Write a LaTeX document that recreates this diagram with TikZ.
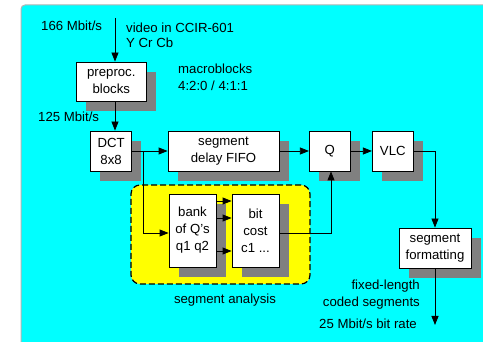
\documentclass[tikz,border=0pt]{standalone}
\usepackage{fontspec}
\setmainfont{Liberation Sans}
\usetikzlibrary{arrows.meta,shadows}
\definecolor{bgcyan}{HTML}{00FFFF}
\definecolor{anayellow}{HTML}{FFFF00}
\definecolor{shgray}{HTML}{808080}
\definecolor{bordergray}{HTML}{B4B4B4}
\begin{document}
\begin{tikzpicture}[x=1pt,y=-1pt,
  font=\fontsize{13.2}{17}\selectfont,
  blk/.style={draw=black, fill=white, line width=0.8pt, inner sep=0pt, align=center,
    general shadow={fill=shgray, shadow xshift=9.6pt, shadow yshift=-9.6pt}},
  lbl/.style={inner sep=0pt},
  ana/.style={draw=black, fill=anayellow, line width=1.2pt, dash pattern=on 6pt off 3pt,
    rounded corners=9pt, inner sep=0pt},
  arr/.style={-{Triangle[length=9pt,width=7pt]}, line width=0.8pt}]
\useasboundingbox (0,0) rectangle (483,342);
% background
\fill[bgcyan, rounded corners=4pt] (21,5) rectangle (500,360);
\draw[bordergray, line width=1pt, rounded corners=4pt] (21,360) -- (21,5) -- (500,5);
% segment analysis area
\node[ana, minimum width=179pt, minimum height=99pt] (ana) at (220.5,234.5) {};
% blocks
\node[blk, minimum width=70pt, minimum height=39pt] (pre) at (111.3,81.5) {preproc.\\blocks};
\node[blk, minimum width=41pt, minimum height=40pt] (dct) at (111.1,151) {DCT\\8x8};
\node[blk, minimum width=111pt, minimum height=40pt] (fifo) at (223.5,151) {segment\\delay FIFO};
\node[blk, minimum width=41pt, minimum height=40pt] (q) at (329.8,151) {Q};
\node[blk, minimum width=41pt, minimum height=40pt] (vlc) at (392.8,151) {VLC};
\node[blk, minimum width=47pt, minimum height=73pt] (bank) at (192.5,230.5) {bank\\of Q's\\q1 q2};
\node[blk, minimum width=47pt, minimum height=73pt] (bit) at (255.5,230.5) {bit\\cost\\c1 ...};
\node[blk, minimum width=72pt, minimum height=40pt] (seg) at (435,248) {segment\\formatting};
% labels
\node[lbl, anchor=base west] (l166) at (41,31) {166 Mbit/s};
\node[lbl, anchor=base west] (lvid1) at (126,33) {video in CCIR-601};
\node[lbl, anchor=base west] (lvid2) at (126,48) {Y Cr Cb};
\node[lbl, anchor=base west] (lmb1) at (178,74) {macroblocks};
\node[lbl, anchor=base west] (lmb2) at (178,91) {4:2:0 / 4:1:1};
\node[lbl, anchor=base west] (l125) at (38,122) {125 Mbit/s};
\node[lbl, anchor=base] (lsa) at (225,304) {segment analysis};
\node[lbl, anchor=base east] (lfl) at (420,290) {fixed-length};
\node[lbl, anchor=base east] (lcs) at (420,307) {coded segments};
\node[lbl, anchor=base west] (l25) at (319,329) {25 Mbit/s bit rate};
% connectors
\coordinate (in) at (115,18);
\coordinate (br) at (143,151);
\coordinate (out) at (435,325);
\draw[arr] (in) -- (in |- pre.north);
\draw[arr] (in |- pre.south) -- (in |- dct.north);
\draw[arr] (dct.east) -- (fifo.west);
\draw[arr] (br) |- ([yshift=-2.5pt]bank.west);
\draw[arr] (fifo.east) -- (q.west);
\draw[arr] (q.east) -- (vlc.west);
\draw[arr] (vlc.east) -| (seg.north);
\draw[arr] (seg.south) -- (out);
\draw[arr] ([yshift=29.5pt]bank.east) -- ([yshift=29.5pt]bit.west);
\draw[arr] ([yshift=12.5pt]bank.east) -- ([yshift=12.5pt]bit.west);
\draw[arr] ([yshift=-20.5pt]bank.east) -- ([yshift=-20.5pt]bit.west);
\draw[arr] ([yshift=-2.5pt]bit.east) -| ([xshift=1.2pt]q.south);
\end{tikzpicture}
\end{document}
